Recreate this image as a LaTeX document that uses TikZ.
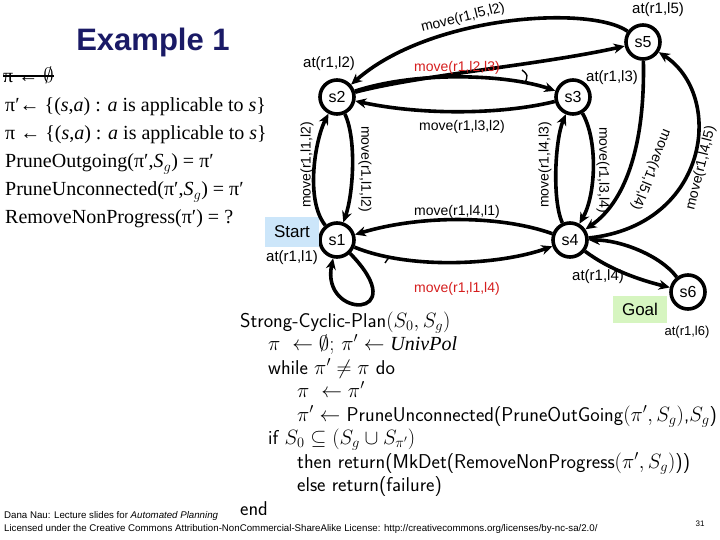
\documentclass[tikz,border=0pt]{standalone}
\usepackage{fontspec}
\setmainfont{Liberation Serif}
\newfontfamily\arial{Liberation Sans}
\usetikzlibrary{arrows.meta}
\definecolor{navy}{RGB}{26,26,102}
\definecolor{redlab}{RGB}{214,30,30}
\definecolor{startblue}{RGB}{204,230,250}
\definecolor{goalgreen}{RGB}{214,245,192}
\begin{document}
\begin{tikzpicture}[x=1pt,y=-1pt,
  st/.style={circle,draw,line width=3.6pt,minimum size=34pt,inner sep=0pt,font=\arial\fontsize{16}{16}\selectfont},
  edge/.style={line width=3.6pt,-{Stealth[length=11pt,width=10pt]}},
  lab/.style={font=\arial\fontsize{14}{14}\selectfont,inner sep=0pt},
  atlab/.style={font=\arial\fontsize{15}{15}\selectfont,inner sep=0pt},
  redl/.style={lab,text=redlab},
  nd/.style={line width=1.4pt},
  lt/.style={anchor=base west,inner sep=0pt,font=\fontsize{20}{24}\selectfont},
  alg/.style={anchor=base west,inner sep=0pt,font=\sffamily\fontsize{20}{24}\selectfont},
  tag/.style={font=\arial\fontsize{17}{17}\selectfont,minimum width=54pt,inner sep=0pt},
  foot/.style={anchor=base west,inner sep=0pt,font=\arial\fontsize{9.7}{10}\selectfont}
]
\useasboundingbox (0,0) rectangle (720,540);
\fill[white] (0,0) rectangle (720,540);

% title and left text
\node[font=\arial\bfseries\fontsize{31}{31}\selectfont,text=navy] (title) at (153,42) {Example 1};
\node[lt] (l1) at (3,83) {π ← $\emptyset$};
\draw[line width=1.8pt] (l1.west) -- (l1.east);
\node[lt] (l2) at (5,112) {π′← \{(\textit{s},\textit{a}) : \textit{a} is applicable to \textit{s}\}};
\node[lt] (l3) at (5,140) {π ← \{(\textit{s},\textit{a}) : \textit{a} is applicable to \textit{s}\}};
\node[lt] (l4) at (5,168) {PruneOutgoing(π′,\textit{S}$_g$) = π′};
\node[lt] (l5) at (5,196) {PruneUnconnected(π′,\textit{S}$_g$) = π′};
\node[lt] (l6) at (5,224) {RemoveNonProgress(π′) = ?};

% state nodes
\node[st] (s1) at (337,240) {s1};
\node[st] (s2) at (337,97) {s2};
\node[st] (s3) at (573,97) {s3};
\node[st] (s4) at (570,240) {s4};
\node[st] (s5) at (643,42) {s5};
\node[st] (s6) at (688,292) {s6};

\node[tag,fill=startblue,minimum height=30pt] (start) at (292,232) {Start};
\node[tag,fill=goalgreen,minimum height=27pt] (goal) at (640,309) {Goal};

% at labels
\node[atlab] (at1) at (292,258) {at(r1,l1)};
\node[atlab] (at2) at (329,64) {at(r1,l2)};
\node[atlab] (at3) at (612,78) {at(r1,l3)};
\node[atlab] (at4) at (598,277) {at(r1,l4)};
\node[atlab] (at5) at (658,10) {at(r1,l5)};
\node[font=\arial\fontsize{13}{13}\selectfont,inner sep=0pt] (at6) at (687,332) {at(r1,l6)};

% edges
\draw[edge] (s5) .. controls (590,5) and (430,15) .. (s2);
\draw[edge] (s2) .. controls (420,75) and (540,65) .. (s5);
\draw[edge] (s2) .. controls (420,70) and (510,75) .. (s3);
\draw[nd] (522,70) .. controls (528,75) .. (525,83);
\draw[edge] (s3) .. controls (500,115) and (420,115) .. (s2);
\draw[edge] (s1) .. controls (305,200) and (315,140) .. (s2);
\draw[edge] (s2) .. controls (357,140) and (353,195) .. (s1);
\draw[edge] (s4) .. controls (552,200) and (555,140) .. (s3);
\draw[edge] (s3) .. controls (598,140) and (596,195) .. (s4);
\draw[edge] (s5) .. controls (645,140) and (628,200) .. (s4);
\draw[edge] (s4) .. controls (710,225) and (725,95) .. (s5);
\draw[edge] (s4) .. controls (500,215) and (420,215) .. (s1);
\draw[edge] (s1) .. controls (410,270) and (500,265) .. (s4);
\draw[edge] (s1) .. controls (415,320) and (320,320) .. (s1);
\draw[nd] (385,263) .. controls (389,257) .. (394,257);
\draw[edge] (s4) .. controls (610,270) and (640,280) .. (s6);
\draw[edge] (s6) .. controls (660,255) and (620,240) .. (s4);

% edge labels
\node[lab,rotate=14] (m52) at (463,18) {move(r1,l5,l2)};
\node[redl] (m23) at (457,68) {move(r1,l2,l3)};
\node[lab] (m32) at (462,127) {move(r1,l3,l2)};
\node[lab,rotate=90] (m12a) at (307,165) {move(r1,l1,l2)};
\node[lab,rotate=-90] (m12b) at (365,169) {move(r1,l1,l2)};
\node[lab,rotate=90] (m43) at (545,165) {move(r1,l4,l3)};
\node[lab,rotate=-90] (m34) at (603,170) {move(r1,l3,l4)};
\node[lab,rotate=-112] (m54) at (651,170) {move(r1,l5,l4)};
\node[lab,rotate=76] (m45) at (701,168) {move(r1,l4,l5)};
\node[lab] (m41) at (457,212) {move(r1,l4,l1)};
\node[redl] (m14) at (457,289) {move(r1,l1,l4)};

% algorithm
\node[alg] (a1) at (240,327) {Strong-Cyclic-Plan$(S_0,S_g)$};
\node[alg] (a2) at (268,350) {$\pi\ \leftarrow \emptyset;\, \pi' \leftarrow \mathit{UnivPol}$};
\node[alg] (a3) at (268,374) {while $\pi' \neq \pi$ do};
\node[alg] (a4) at (297,397) {$\pi\ \leftarrow \pi'$};
\node[alg] (a5) at (297,421) {$\pi' \leftarrow$ PruneUnconnected(PruneOutGoing$(\pi',S_g)$,$S_g$)};
\node[alg] (a6) at (268,444) {if $S_0 \subseteq (S_g \cup S_{\pi'})$};
\node[alg] (a7) at (297,468) {then return(MkDet(RemoveNonProgress$(\pi',S_g)$))};
\node[alg] (a8) at (297,491) {else return(failure)};
\node[alg] (a9) at (240,515) {end};

% footer
\node[foot] (f1) at (4,518) {Dana Nau: Lecture slides for \textit{Automated Planning}};
\node[foot] (f2) at (4,531) {Licensed under the Creative Commons Attribution-NonCommercial-ShareAlike License: http://creativecommons.org/licenses/by-nc-sa/2.0/};
\node[inner sep=0pt,font=\arial\fontsize{8}{9}\selectfont] (pg) at (700,524) {31};
\end{tikzpicture}
\end{document}
